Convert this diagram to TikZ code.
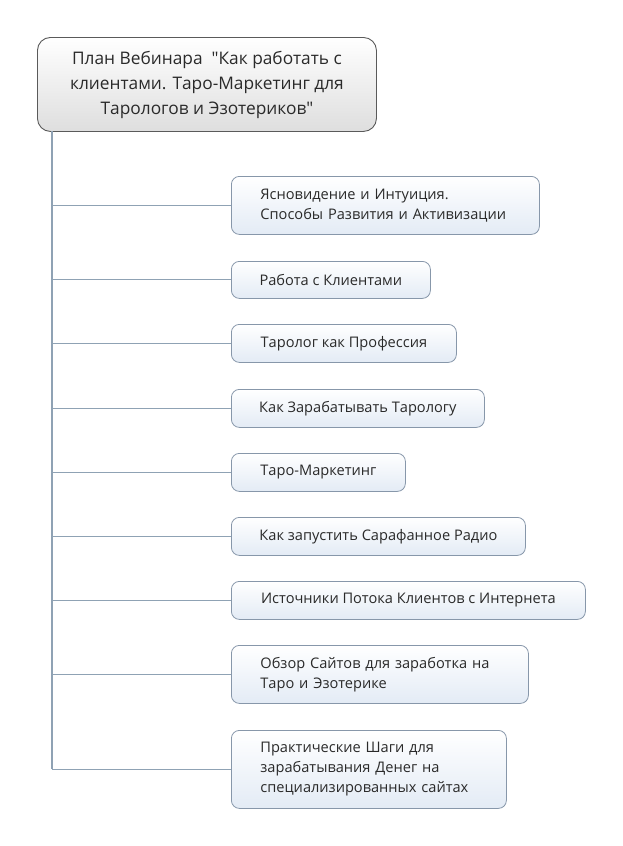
\documentclass[tikz,border=0pt]{standalone}
\usepackage{fontspec}
\setmainfont{Open Sans}[Ligatures=TeXOff]
\definecolor{linecol}{HTML}{8FA2B4}
\definecolor{childborder}{HTML}{8797AA}
\definecolor{childbot}{HTML}{E3EBF5}
\definecolor{rootborder}{HTML}{5A5A5A}
\definecolor{rootbot}{HTML}{DEDEDE}
\definecolor{txt}{HTML}{2A2A2A}
\tikzset{
  rootbox/.style={draw=rootborder, line width=0.9pt, rounded corners=13pt,
    top color=white, bottom color=rootbot, align=center, text=txt,
    font=\fontsize{17.3}{25}\selectfont, inner sep=0pt, anchor=north west},
  childbox/.style={draw=childborder, line width=0.8pt, rounded corners=8pt,
    top color=white, bottom color=childbot, text=txt,
    font=\fontsize{14.6}{20}\selectfont, inner sep=0pt, anchor=north west},
  conn/.style={draw=linecol, line width=1.1pt}
}
\begin{document}
\begin{tikzpicture}[x=1pt,y=-1pt]
\useasboundingbox[fill=white] (0,0) rectangle (622,846);

\node[rootbox, minimum width=339, minimum height=94] (root) at (37,37)
  {План Вебинара \ "Как работать с\\клиентами. Таро-Маркетинг для\\Тарологов и Эзотериков"};

\node[childbox, minimum width=308, minimum height=58, text width=250, align=left] (c1) at (231,176)
  {Ясновидение и Интуиция.\\Способы Развития и Активизации};
\node[childbox, minimum width=199, minimum height=37] (c2) at (231,261) {Работа с Клиентами};
\node[childbox, minimum width=225, minimum height=38] (c3) at (231,324) {Таролог как Профессия};
\node[childbox, minimum width=253, minimum height=38] (c4) at (231,389) {Как Зарабатывать Тарологу};
\node[childbox, minimum width=174, minimum height=38] (c5) at (231,453) {Таро-Маркетинг};
\node[childbox, minimum width=294, minimum height=38] (c6) at (231,517) {Как запустить Сарафанное Радио};
\node[childbox, minimum width=354, minimum height=38] (c7) at (231,581) {Источники Потока Клиентов с Интернета};
\node[childbox, minimum width=297, minimum height=58, text width=239, align=left] (c8) at (231,645)
  {Обзор Сайтов для заработка на\\Таро и Эзотерике};
\node[childbox, minimum width=275, minimum height=78, text width=217, align=left] (c9) at (231,730)
  {Практические Шаги для\\зарабатывания Денег на\\специализированных сайтах};

\coordinate (top) at (52,131);
\foreach \i in {1,...,9} {
  \coordinate (t\i) at (c\i.west -| top);
  \draw[conn] (t\i) -- (c\i.west);
}
\draw[conn] (top) -- (t9);
\end{tikzpicture}
\end{document}
